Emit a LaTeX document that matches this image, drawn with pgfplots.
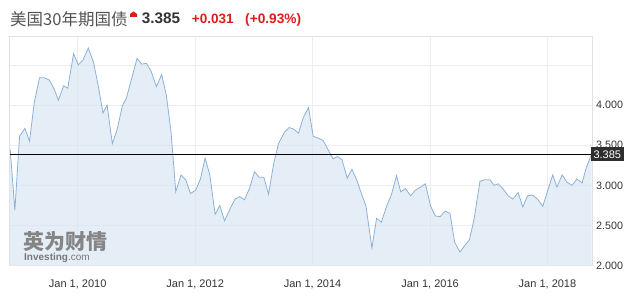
\documentclass[border=0pt]{standalone}
\usepackage{pgfplots}
\pgfplotsset{compat=1.18}
\usepackage{pgfplotstable}
\usepackage{fontspec}
\setmainfont{Liberation Sans}
\newfontfamily\cjk{Noto Sans CJK SC}
\definecolor{linec}{HTML}{8DB1D6}
\definecolor{fillc}{HTML}{D4E3F2}
\definecolor{gridc}{HTML}{EBEDF0}
\definecolor{framec}{HTML}{E2E2E2}
\definecolor{txt}{HTML}{333333}
\definecolor{upred}{HTML}{DD1C1C}
\definecolor{boxc}{HTML}{2E2E2E}
\definecolor{wm}{HTML}{858585}

\pgfplotstableread{
t y
2008.85 3.45
2008.93 2.69
2009.01 3.61
2009.10 3.71
2009.18 3.55
2009.26 4.03
2009.35 4.34
2009.43 4.34
2009.52 4.31
2009.60 4.20
2009.67 4.06
2009.76 4.24
2009.83 4.21
2009.93 4.64
2010.01 4.50
2010.09 4.56
2010.18 4.71
2010.27 4.53
2010.35 4.24
2010.43 3.90
2010.50 4.00
2010.59 3.52
2010.67 3.69
2010.76 3.99
2010.83 4.09
2010.93 4.36
2011.01 4.58
2011.09 4.51
2011.17 4.52
2011.25 4.42
2011.34 4.23
2011.43 4.38
2011.51 4.12
2011.59 3.66
2011.67 2.92
2011.76 3.13
2011.84 3.07
2011.92 2.90
2012.01 2.94
2012.09 3.08
2012.17 3.34
2012.25 3.13
2012.34 2.64
2012.42 2.75
2012.50 2.56
2012.59 2.70
2012.68 2.83
2012.76 2.86
2012.84 2.82
2012.93 2.97
2013.01 3.17
2013.09 3.10
2013.17 3.10
2013.25 2.89
2013.34 3.28
2013.42 3.52
2013.52 3.66
2013.60 3.72
2013.68 3.70
2013.76 3.65
2013.84 3.84
2013.93 3.97
2014.01 3.61
2014.09 3.59
2014.18 3.56
2014.26 3.45
2014.35 3.33
2014.42 3.36
2014.50 3.32
2014.59 3.09
2014.67 3.20
2014.75 3.07
2014.83 2.90
2014.91 2.74
2015.01 2.22
2015.09 2.59
2015.17 2.54
2015.26 2.74
2015.34 2.88
2015.43 3.12
2015.50 2.92
2015.58 2.96
2015.67 2.87
2015.75 2.94
2015.84 2.98
2015.92 3.02
2016.01 2.74
2016.09 2.62
2016.17 2.61
2016.26 2.68
2016.34 2.65
2016.42 2.29
2016.51 2.17
2016.59 2.25
2016.67 2.32
2016.75 2.58
2016.85 3.05
2016.93 3.07
2017.02 3.07
2017.09 3.00
2017.16 3.02
2017.24 2.96
2017.33 2.87
2017.41 2.83
2017.50 2.91
2017.58 2.73
2017.66 2.87
2017.74 2.88
2017.83 2.83
2017.92 2.74
2018.01 2.95
2018.09 3.13
2018.16 2.98
2018.25 3.13
2018.33 3.04
2018.42 3.00
2018.50 3.08
2018.59 3.03
2018.66 3.22
2018.75 3.385
}\yields

\begin{document}
\begin{tikzpicture}
\path[use as bounding box] (0pt,0pt) rectangle (643pt,307pt);
% title
\node[anchor=base west, inner sep=0pt, text=txt!85!white, font=\cjk\fontsize{16.5}{18}\selectfont] at (10pt,281pt) {美国30年期国债};
\fill[upred] (130pt,290pt) -- (130pt,293pt) -- (133.5pt,295.5pt) -- (137pt,293pt) -- (137pt,290pt) -- cycle;
\node[anchor=base west, inner sep=0pt, text=txt, font=\bfseries\fontsize{15.3}{17}\selectfont] at (141.7pt,283.7pt) {3.385};
\node[anchor=base west, inner sep=0pt, text=upred, font=\bfseries\fontsize{13.5}{15}\selectfont] at (191.7pt,283pt) {+0.031};
\node[anchor=base west, inner sep=0pt, text=upred, font=\bfseries\fontsize{13.7}{15}\selectfont] at (245pt,283pt) {(+0.93\%)};
\begin{axis}[
  at={(9pt,41.3pt)}, anchor=south west,
  scale only axis, width=583.7pt, height=229.7pt,
  xmin=2008.83, xmax=2018.77, ymin=2, ymax=4.86,
  clip mode=individual,
  axis line style={draw=none},
  xtick={2010,2012,2014,2016,2018},
  xticklabels={{Jan 1, 2010},{Jan 1, 2012},{Jan 1, 2014},{Jan 1, 2016},{Jan 1, 2018}},
  ytick={2,2.5,3,3.5,4,4.5},
  yticklabels={2.000,2.500,3.000,3.500,4.000,{}},
  yticklabel pos=right,
  major tick length=0pt,
  grid=major,
  grid style={draw=gridc, line width=0.7pt},
  xticklabel style={anchor=north, inner sep=0pt, yshift=-13.6pt, font=\fontsize{11}{12}\selectfont, text=txt},
  yticklabel style={anchor=west, inner sep=0pt, xshift=3.3pt, font=\fontsize{10.7}{12}\selectfont, text=txt},
]
\addplot[fill=fillc, fill opacity=0.6, draw=none] table[x=t,y=y] {\yields} \closedcycle;
\addplot[linec, line width=0.8pt] table[x=t,y=y] {\yields};
\addplot[black, line width=0.8pt] coordinates {(2008.83,3.385) (2018.77,3.385)};
\draw[framec, line width=0.8pt] (rel axis cs:0,0) -- (rel axis cs:0,1) -- (rel axis cs:1,1) -- (rel axis cs:1,0);
\node[anchor=west, fill=boxc, text=white, inner xsep=2.6pt, inner ysep=0pt, minimum height=14pt, xshift=-2pt, font=\fontsize{11}{12}\selectfont] at (axis cs:2018.77,3.385) {3.385};
\end{axis}
% watermark
\node[anchor=west, inner sep=0pt, text=wm, font=\cjk\bfseries\fontsize{21}{22}\selectfont] at (23.3pt,65.7pt) {英为财情};
\node[anchor=base west, inner sep=0pt, text=wm!90!black, font=\fontsize{10}{11}\selectfont] at (24pt,46pt) {\textbf{Investing}.com};
\end{tikzpicture}
\end{document}
